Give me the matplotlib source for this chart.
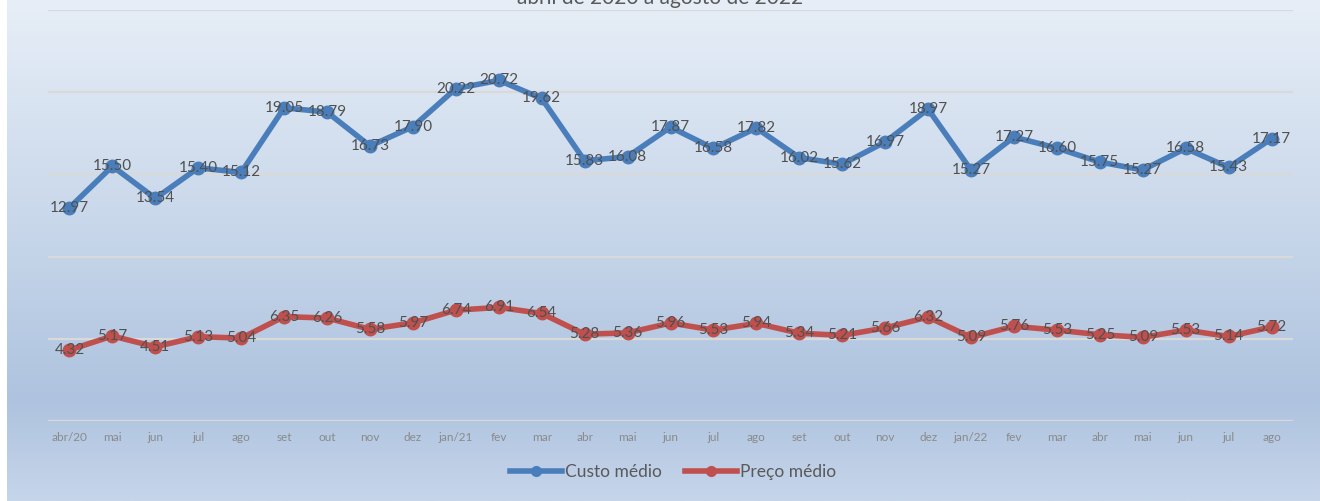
import numpy as np
import matplotlib
matplotlib.use('Agg')
import matplotlib.pyplot as plt
from matplotlib.colors import LinearSegmentedColormap
from matplotlib.lines import Line2D

# monthly values, abr/20 .. ago/22
meses = ['abr/20', 'mai', 'jun', 'jul', 'ago', 'set', 'out', 'nov', 'dez',
         'jan/21', 'fev', 'mar', 'abr', 'mai', 'jun', 'jul', 'ago', 'set',
         'out', 'nov', 'dez', 'jan/22', 'fev', 'mar', 'abr', 'mai', 'jun',
         'jul', 'ago']
custo_medio = [12.97, 15.50, 13.54, 15.40, 15.12, 19.05, 18.79, 16.73, 17.90,
               20.22, 20.72, 19.62, 15.83, 16.08, 17.87, 16.58, 17.82, 16.02,
               15.62, 16.97, 18.97, 15.27, 17.27, 16.60, 15.75, 15.27, 16.58,
               15.43, 17.17]
preco_medio = [4.32, 5.17, 4.51, 5.13, 5.04, 6.35, 6.26, 5.58, 5.97,
               6.74, 6.91, 6.54, 5.28, 5.36, 5.96, 5.53, 5.94, 5.34,
               5.21, 5.66, 6.32, 5.09, 5.76, 5.53, 5.25, 5.09, 5.53,
               5.14, 5.72]
titulo = '- abril de 2020 a agosto de 2022 -'

plt.rcParams['font.family'] = ['Lato', 'DejaVu Sans']

BLUE = '#4a7ebb'
RED = '#c0504d'

fig = plt.figure(figsize=(13.2, 5.01), dpi=100)
fig.patch.set_facecolor('white')

# gradient background
bg = fig.add_axes([7 / 1320, 0, 1 - 7 / 1320, 1], zorder=-1)
cmap = LinearSegmentedColormap.from_list(
    'bg', [(0.0, '#e7eef7'), (0.45, '#c8d7ea'), (0.8, '#aec3df'), (1.0, '#c6d5ea')])
grad = np.linspace(0, 1, 256).reshape(-1, 1)
bg.imshow(grad, aspect='auto', cmap=cmap, extent=[0, 1, 0, 1], origin='upper')
bg.axis('off')

ax = fig.add_axes([48 / 1320, 80 / 501, 1245 / 1320, 411 / 501])
ax.patch.set_alpha(0)
x = np.arange(len(meses))

ax.plot(x, custo_medio, color=BLUE, lw=4, marker='o', ms=9, zorder=3,
        label='Custo médio', solid_joinstyle='round')
ax.plot(x, preco_medio, color=RED, lw=4, marker='o', ms=9, zorder=3,
        label='Preço médio', solid_joinstyle='round')

for xi, v in zip(x, custo_medio):
    ax.text(xi, v, f'{v:.2f}', ha='center', va='center', fontsize=11,
            color='#505050', zorder=4)
for xi, v in zip(x, preco_medio):
    ax.text(xi, v, f'{v:.2f}', ha='center', va='center', fontsize=11,
            color='#505050', zorder=4)

ax.set_xlim(-0.5, len(meses) - 0.5)
ax.set_ylim(0, 25)
ax.set_yticks([0, 5, 10, 15, 20, 25])
ax.yaxis.grid(True, color='#d9d9d9', lw=1.6)
ax.set_axisbelow(True)
ax.tick_params(axis='y', left=False, labelleft=False)
ax.set_xticks(x)
ax.set_xticklabels(meses, fontsize=8.5, color='#8a8a8a')
ax.tick_params(axis='x', length=0, pad=8)
for s in ax.spines.values():
    s.set_visible(False)

fig.text(0.5, 1 - 4 / 501, titulo, ha='center', va='baseline', fontsize=15,
         color='#595959')

handles = [Line2D([], [], color=BLUE, lw=4, marker='o', ms=7),
           Line2D([], [], color=RED, lw=4, marker='o', ms=7)]
fig.legend(handles, ['Custo médio', 'Preço médio'], loc='center',
           bbox_to_anchor=(673 / 1320, 29 / 501), ncol=2, frameon=False,
           fontsize=12.5, labelcolor='#595959', handlelength=3.0,
           handletextpad=0.2, columnspacing=1.3)

fig.savefig('out.png', dpi=100)
